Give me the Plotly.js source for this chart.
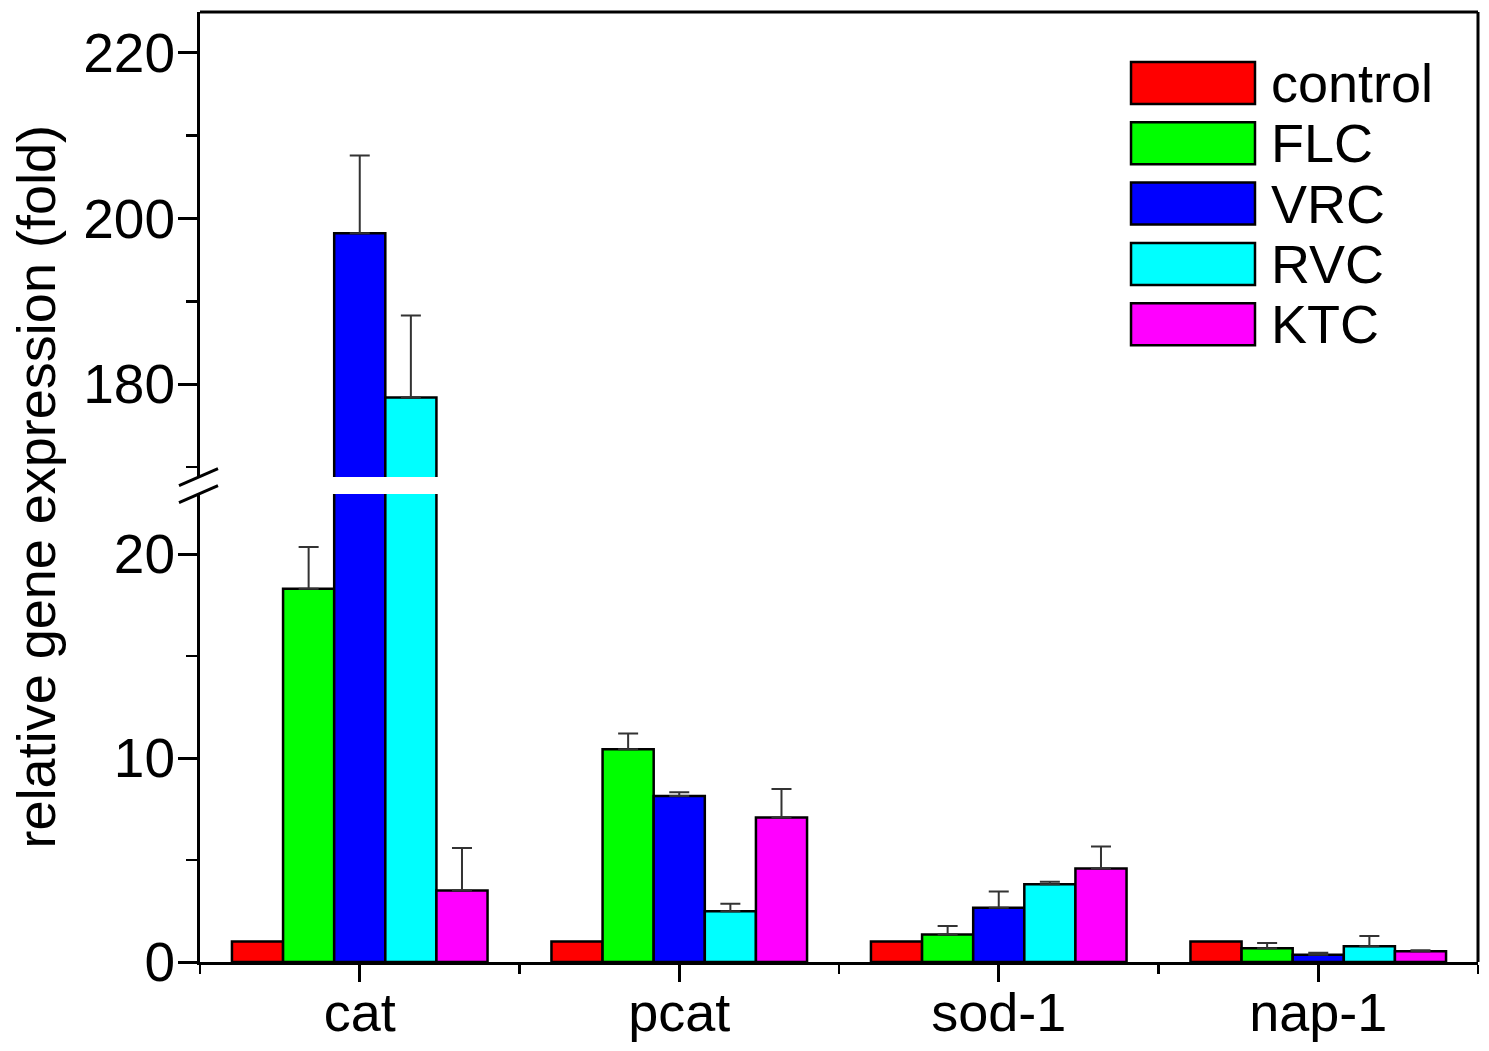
<!DOCTYPE html>
<html>
<head>
<meta charset="utf-8">
<script src="https://cdn.plot.ly/plotly-3.0.1.min.js"></script>
<style>
  html, body { margin: 0; padding: 0; background: #ffffff; }
  #chart { width: 1489px; height: 1051px; }
</style>
</head>
<body>
<div id="chart"></div>
<script>
// genes on the x axis
const GENES = ['cat', 'pcat', 'sod-1', 'nap-1'];

// mean fold change per treatment, one value per gene
const CONTROL = [1.0, 1.0, 1.0, 1.0];
const FLC = [18.3, 10.43, 1.35, 0.68];
const VRC = [198.2, 8.14, 2.66, 0.36];
const RVC = [178.4, 2.49, 3.81, 0.77];
const KTC = [3.51, 7.09, 4.58, 0.53];

// standard deviation (upper bar only)
const FLC_ERR = [2.05, 0.78, 0.42, 0.25];
const VRC_ERR = [9.4, 0.18, 0.8, 0.09];
const RVC_ERR = [9.9, 0.37, 0.12, 0.5];
const KTC_ERR = [2.08, 1.39, 1.08, 0.05];

const SERIES_NAMES = ['control', 'FLC', 'VRC', 'RVC', 'KTC'];
const SERIES_VALUES = [CONTROL, FLC, VRC, RVC, KTC];
const SERIES_ERRORS = [null, FLC_ERR, VRC_ERR, RVC_ERR, KTC_ERR];

// broken y axis: lower and upper segments
const LOWER_RANGE = [0, 22.95];
const UPPER_RANGE = [168.8, 224.9];
const LOWER_DOMAIN = [0, 0.4926];
const UPPER_DOMAIN = [0.5105, 1];

const COLORS = ['#ff0000', '#00ff00', '#0000ff', '#00ffff', '#ff00ff'];
const FAMILY = '"Liberation Sans", Arial, Helvetica, sans-serif';
const FONT = { family: FAMILY, color: '#000000', size: 54 };
const TICK_FONT = { family: FAMILY, color: '#000000', size: 55 };
const LINE_W = 3;

const xPos = GENES.map((_, i) => i);

function makeTrace(i, yaxis) {
  const err = SERIES_ERRORS[i];
  const trace = {
    type: 'bar',
    name: SERIES_NAMES[i],
    x: xPos,
    y: SERIES_VALUES[i],
    yaxis: yaxis,
    showlegend: false,
    hoverinfo: 'skip',
    marker: { color: COLORS[i], line: { color: '#000000', width: 2.5 } },
  };
  if (err) {
    trace.error_y = {
      type: 'data',
      symmetric: false,
      array: err,
      arrayminus: err.map(() => 0),
      color: '#333333',
      thickness: 2,
      width: 10,
    };
  }
  return trace;
}

const traces = [];
SERIES_NAMES.forEach((_, i) => {
  traces.push(makeTrace(i, 'y'));
  traces.push(makeTrace(i, 'y2'));
});

const Y_COMMON = {
  showline: true,
  linecolor: '#000000',
  linewidth: LINE_W,
  ticks: 'outside',
  ticklen: 19,
  tickwidth: LINE_W,
  tickcolor: '#000000',
  tickfont: TICK_FONT,
  ticklabelstandoff: -8,
  showgrid: false,
  zeroline: false,
  fixedrange: true,
};

// legend drawn as boxes + text so the swatches have the original size
const shapes = [];
const annotations = [];
const plotH = 950;
SERIES_NAMES.forEach((name, i) => {
  const yc = (962 - (83 + 60.3 * i)) / plotH;
  shapes.push({
    type: 'rect', xref: 'paper', yref: 'paper',
    x0: 0.7285, x1: 0.8255, y0: yc - 21 / plotH, y1: yc + 21 / plotH,
    fillcolor: COLORS[i], line: { color: '#000000', width: 2.5 },
  });
  annotations.push({
    xref: 'paper', yref: 'paper', x: 0.8365, y: yc,
    xanchor: 'left', yanchor: 'middle', showarrow: false,
    text: name, font: FONT,
  });
});

// top and right frame lines
shapes.push({ type: 'line', xref: 'paper', yref: 'paper', x0: 0, x1: 1, y0: 1, y1: 1,
  line: { color: '#000000', width: LINE_W } });
shapes.push({ type: 'line', xref: 'paper', yref: 'paper', x0: 1, x1: 1, y0: 0, y1: 1,
  line: { color: '#000000', width: LINE_W } });

// axis break marks at the end of each segment
[UPPER_DOMAIN[0], LOWER_DOMAIN[1]].forEach(v => {
  shapes.push({
    type: 'line', xref: 'paper', yref: 'paper',
    xsizemode: 'pixel', ysizemode: 'pixel', xanchor: 0, yanchor: v,
    x0: -21, x1: 18, y0: -8.5, y1: 8.5,
    line: { color: '#000000', width: LINE_W },
  });
});

annotations.push({
  xref: 'paper', yref: 'paper', x: -0.128, y: 0.5,
  xanchor: 'center', yanchor: 'middle', showarrow: false, textangle: -90,
  text: 'relative gene expression (fold)', font: FONT,
});

const layout = {
  width: 1489,
  height: 1051,
  paper_bgcolor: '#ffffff',
  plot_bgcolor: '#ffffff',
  font: FONT,
  margin: { l: 200, r: 11, t: 12, b: 89 },
  barmode: 'group',
  bargap: 0.2,
  bargroupgap: 0,
  showlegend: false,
  xaxis: {
    range: [-0.5, GENES.length - 0.5],
    tickmode: 'array',
    tickvals: xPos,
    ticktext: GENES,
    ticks: 'outside',
    ticklen: 17,
    tickwidth: LINE_W,
    tickcolor: '#000000',
    tickfont: FONT,
    ticklabelstandoff: -16,
    minor: { tick0: 0.5, dtick: 1, ticks: 'outside', ticklen: 9, tickwidth: 2.5, tickcolor: '#000000' },
    showline: true,
    linecolor: '#000000',
    linewidth: LINE_W,
    showgrid: false,
    zeroline: false,
    anchor: 'y',
    fixedrange: true,
  },
  yaxis: {
    ...Y_COMMON,
    domain: LOWER_DOMAIN,
    range: LOWER_RANGE,
    tick0: 0,
    dtick: 10,
    minor: { dtick: 5, ticks: 'outside', ticklen: 11, tickwidth: 2.5, tickcolor: '#000000' },
    anchor: 'x',
  },
  yaxis2: {
    ...Y_COMMON,
    domain: UPPER_DOMAIN,
    range: UPPER_RANGE,
    tick0: 180,
    dtick: 20,
    minor: { tick0: 170, dtick: 10, ticks: 'outside', ticklen: 11, tickwidth: 2.5, tickcolor: '#000000' },
    anchor: 'x',
  },
  shapes: shapes,
  annotations: annotations,
};

Plotly.newPlot('chart', traces, layout, { displayModeBar: false, staticPlot: true });
</script>
</body>
</html>
